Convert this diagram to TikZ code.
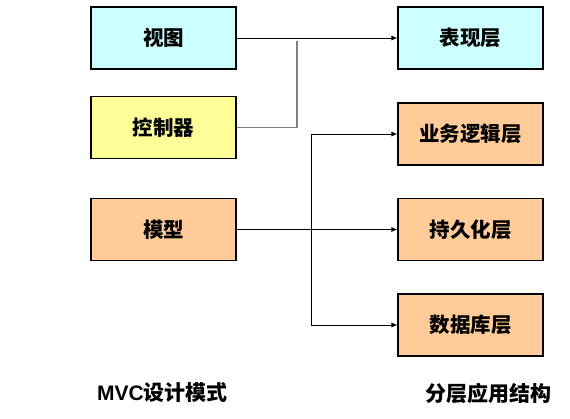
\documentclass[tikz,border=0pt]{standalone}
\usepackage{fontspec}
\setmainfont{Liberation Sans}
\newfontfamily\cjk{Noto Sans CJK SC}
\usetikzlibrary{arrows.meta}
\definecolor{cyanbox}{HTML}{CCFFFF}
\definecolor{yellowbox}{HTML}{FFFF99}
\definecolor{orangebox}{HTML}{FFCC99}
\definecolor{grayline}{HTML}{808080}
\begin{document}
\begin{tikzpicture}[x=1pt,y=-1pt,
  box/.style={draw=black,line width=1.1pt,minimum width=145pt,minimum height=62pt,inner sep=0pt,font=\cjk\bfseries\fontsize{20.5}{22}\selectfont},
  conn/.style={draw=black,line width=0.9pt},
  arr/.style={conn,-{Latex[length=6pt,width=5pt]}},
  lbl/.style={font=\bfseries\fontsize{21}{23}\selectfont,inner sep=0pt}]
\useasboundingbox (0,0) rectangle (570,418);
\node[box,fill=cyanbox] (v) at (163.5,38) {视图};
\node[box,fill=yellowbox] (c) at (163.5,127.5) {控制器};
\node[box,fill=orangebox] (m) at (163.5,229.5) {模型};
\node[box,fill=cyanbox] (p) at (470.5,38) {表现层};
\node[box,fill=orangebox] (b) at (470.5,134) {业务逻辑层};
\node[box,fill=orangebox] (s) at (470.5,229.5) {持久化层};
\node[box,fill=orangebox] (d) at (470.5,325) {数据库层};
\coordinate (ctop) at (297,41);
\coordinate (split) at (311,229.5);
\draw[arr] (v.east) -- (p.west);
\draw[draw=grayline,line width=1.6pt] (c.east) -| (ctop);
\draw[arr] (m.east) -- (s.west);
\draw[arr] (split) |- (b.west);
\draw[arr] (split) |- (d.west);
\node[lbl,anchor=west] (l1) at (97,393) {MVC{\cjk 设计模式}};
\node[lbl,anchor=west] (l2) at (425,393) {\cjk 分层应用结构};
\end{tikzpicture}
\end{document}
